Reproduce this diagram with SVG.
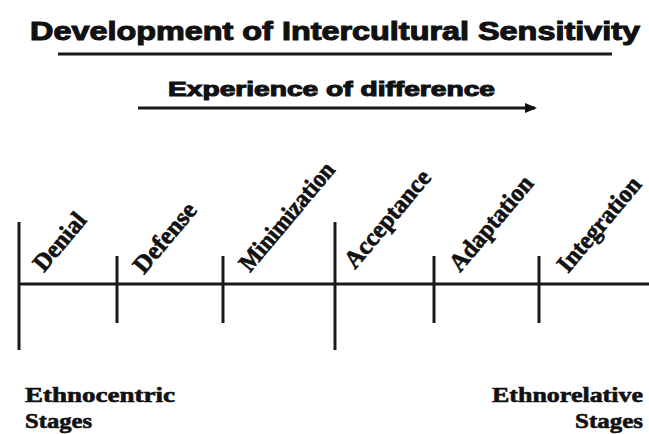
<svg xmlns="http://www.w3.org/2000/svg" width="649" height="434" viewBox="0 0 649 434">
<style>
.t{font-family:"Liberation Sans",Arial,sans-serif;font-weight:bold;fill:#111;stroke:#111;stroke-width:1.1}
.lb{font-family:"Liberation Serif","Times New Roman",serif;font-weight:bold;font-size:25px;fill:#111;stroke:#111;stroke-width:0.7}
.bt{font-family:"Liberation Serif","Times New Roman",serif;font-weight:bold;font-size:21px;fill:#111;stroke:#111;stroke-width:0.6}
.ln{stroke:#1a1a1a;stroke-width:3;fill:none}
</style>
<defs>
<marker id="ah" markerWidth="12" markerHeight="10" refX="10" refY="5" orient="auto" markerUnits="userSpaceOnUse">
<path d="M0,0 L12,5 L0,10 Z" fill="#111"/>
</marker>
</defs>
<rect width="649" height="434" fill="#fff"/>
<g id="title">
<text class="t" x="30" y="40" font-size="26" textLength="610" lengthAdjust="spacingAndGlyphs">Development of Intercultural Sensitivity</text>
<line class="ln" x1="58" y1="54" x2="612" y2="54" stroke-width="3.5"/>
</g>
<g id="experience">
<text class="t" x="168" y="96" font-size="21" textLength="327" lengthAdjust="spacingAndGlyphs">Experience of difference</text>
</g>
<g id="connectors">
<line class="ln" x1="138" y1="108" x2="535" y2="108" marker-end="url(#ah)"/>
<line class="ln" x1="18" y1="284" x2="649" y2="284"/>
<line class="ln" x1="19" y1="222" x2="19" y2="350"/>
<line class="ln" x1="117" y1="256" x2="117" y2="323"/>
<line class="ln" x1="223" y1="256" x2="223" y2="323"/>
<line class="ln" x1="335" y1="222" x2="335" y2="350"/>
<line class="ln" x1="434" y1="256" x2="434" y2="323"/>
<line class="ln" x1="539" y1="256" x2="539" y2="323"/>
</g>
<g id="denial"><text class="lb" transform="translate(44,273) rotate(-50)" textLength="68" lengthAdjust="spacingAndGlyphs">Denial</text></g>
<g id="defense"><text class="lb" transform="translate(144,275) rotate(-50)" textLength="84" lengthAdjust="spacingAndGlyphs">Defense</text></g>
<g id="minimization"><text class="lb" transform="translate(250,273) rotate(-50)" textLength="134" lengthAdjust="spacingAndGlyphs">Minimization</text></g>
<g id="acceptance"><text class="lb" transform="translate(355,270) rotate(-50)" textLength="120" lengthAdjust="spacingAndGlyphs">Acceptance</text></g>
<g id="adaptation"><text class="lb" transform="translate(460,273) rotate(-50)" textLength="116" lengthAdjust="spacingAndGlyphs">Adaptation</text></g>
<g id="integration"><text class="lb" transform="translate(568,274) rotate(-50)" textLength="116" lengthAdjust="spacingAndGlyphs">Integration</text></g>
<g id="ethnocentric">
<text class="bt" x="25" y="402" textLength="150" lengthAdjust="spacingAndGlyphs">Ethnocentric</text>
<text class="bt" x="25" y="428" textLength="67" lengthAdjust="spacingAndGlyphs">Stages</text>
</g>
<g id="ethnorelative">
<text class="bt" x="492" y="402" textLength="151" lengthAdjust="spacingAndGlyphs">Ethnorelative</text>
<text class="bt" x="575" y="428" textLength="68" lengthAdjust="spacingAndGlyphs">Stages</text>
</g>
</svg>
